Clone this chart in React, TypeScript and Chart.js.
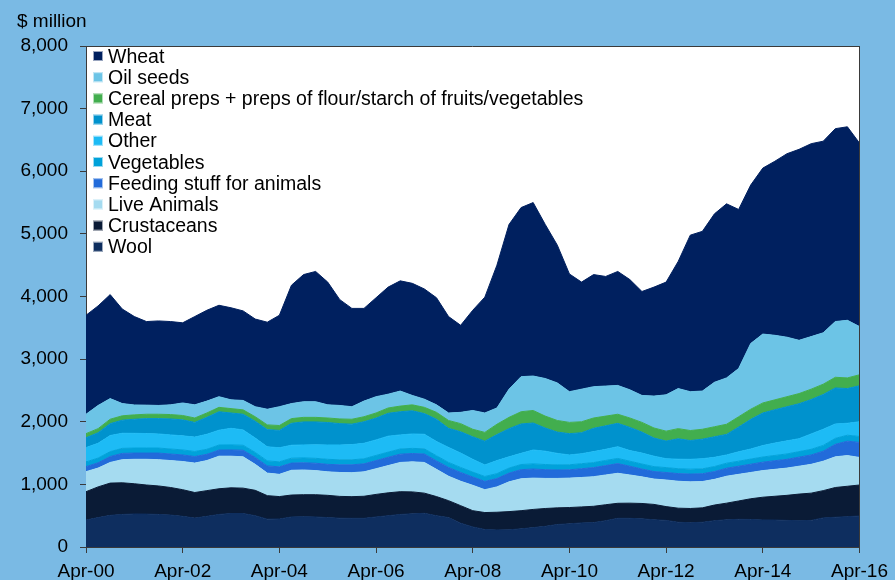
import React, { useEffect, useRef } from "react";
import { Chart, registerables } from "chart.js";

Chart.register(...registerables);

const quarters = [
  "Apr-00","Jul-00","Oct-00","Jan-01","Apr-01","Jul-01","Oct-01","Jan-02",
  "Apr-02","Jul-02","Oct-02","Jan-03","Apr-03","Jul-03","Oct-03","Jan-04",
  "Apr-04","Jul-04","Oct-04","Jan-05","Apr-05","Jul-05","Oct-05","Jan-06",
  "Apr-06","Jul-06","Oct-06","Jan-07","Apr-07","Jul-07","Oct-07","Jan-08",
  "Apr-08","Jul-08","Oct-08","Jan-09","Apr-09","Jul-09","Oct-09","Jan-10",
  "Apr-10","Jul-10","Oct-10","Jan-11","Apr-11","Jul-11","Oct-11","Jan-12",
  "Apr-12","Jul-12","Oct-12","Jan-13","Apr-13","Jul-13","Oct-13","Jan-14",
  "Apr-14","Jul-14","Oct-14","Jan-15","Apr-15","Jul-15","Oct-15","Jan-16",
  "Apr-16",
];

const yTicks = [0, 1000, 2000, 3000, 4000, 5000, 6000, 7000, 8000];

const wool = [431,470,505,520,527,525,520,510,490,462,490,520,535,535,500,445,447,480,485,480,470,460,458,458,480,500,520,530,538,500,470,380,320,280,272,275,290,310,330,360,370,385,390,420,458,458,450,435,425,395,388,395,420,435,442,440,432,430,425,420,425,465,475,485,495];
const crustaceans = [452,490,515,505,483,465,455,440,425,408,410,410,410,405,405,375,358,350,350,355,355,348,346,352,360,365,363,350,322,305,270,280,260,270,283,290,290,290,285,265,260,255,260,255,240,242,245,245,220,225,227,230,250,265,293,330,363,380,400,425,435,435,475,485,495];
const liveAnimals = [320,300,330,370,390,410,420,430,450,470,480,520,505,500,415,360,355,395,395,385,375,382,383,390,410,435,467,480,490,435,390,390,405,365,405,475,510,500,480,470,470,470,473,475,479,450,425,405,425,430,425,420,410,430,425,420,425,430,435,445,460,470,490,490,440];
const feeding = [80,85,95,100,100,100,105,105,105,105,100,98,100,105,110,115,120,115,115,118,120,122,125,128,130,133,133,133,135,135,140,140,133,133,133,140,145,145,140,135,133,140,145,150,155,140,125,120,120,122,125,125,125,128,130,132,135,138,140,145,150,160,200,230,240];
const vegetables = [75,75,78,80,80,80,80,80,80,80,80,80,80,80,80,80,80,78,78,78,80,80,80,80,82,82,82,82,82,82,80,80,78,78,78,80,82,82,82,80,80,80,80,82,82,80,80,78,78,78,78,78,80,80,80,82,82,84,86,88,90,92,95,95,95];
const other = [229,236,257,241,235,232,225,225,225,230,240,237,265,245,230,225,225,207,207,216,229,237,243,248,248,255,225,230,233,228,240,230,204,184,209,180,179,222,213,185,157,160,175,178,188,170,175,167,142,152,157,162,147,132,150,161,183,198,209,207,245,258,230,191,235];
const meat = [158,169,190,209,225,238,245,255,255,235,270,295,245,250,268,275,277,350,368,366,359,341,327,344,348,365,370,370,330,355,305,340,360,380,415,450,469,431,370,340,340,335,372,375,373,370,335,290,282,326,300,312,328,328,395,473,520,532,545,558,550,555,575,554,575];
const cereal = [65,65,70,70,70,70,70,70,70,70,70,70,70,70,72,75,78,75,72,72,72,75,78,80,82,85,90,95,100,110,125,130,120,140,165,180,195,200,190,185,180,175,165,155,145,150,155,160,158,162,160,158,160,162,165,162,160,158,160,162,165,165,170,170,175];
const oilSeeds = [310,370,330,195,158,145,140,155,200,210,190,170,140,150,160,250,300,240,250,250,210,215,200,250,260,220,240,150,130,120,120,180,300,310,260,450,560,550,600,600,490,520,500,480,460,450,430,510,580,640,620,610,710,740,770,1050,1100,1030,950,850,840,820,890,920,770];
const wheat = [1580,1590,1660,1510,1412,1335,1350,1330,1280,1410,1450,1460,1470,1430,1400,1390,1460,1890,2030,2080,1960,1690,1570,1480,1580,1710,1760,1790,1760,1710,1540,1390,1600,1850,2280,2630,2700,2770,2460,2200,1880,1710,1790,1750,1820,1760,1660,1740,1800,2030,2500,2550,2690,2780,2540,2530,2650,2780,2930,3050,3080,3060,3080,3090,2930];

const seriesNames = [
  "Wool",
  "Crustaceans",
  "Live Animals",
  "Feeding stuff for animals",
  "Vegetables",
  "Other",
  "Meat",
  "Cereal preps + preps of flour/starch of fruits/vegetables",
  "Oil seeds",
  "Wheat",
];
const seriesData = [wool, crustaceans, liveAnimals, feeding, vegetables, other, meat, cereal, oilSeeds, wheat];
const seriesColors = [
  "#0E2E5F",
  "#0A1B36",
  "#A5DBF0",
  "#226BDA",
  "#00A2DA",
  "#1DBBF5",
  "#0092CD",
  "#42AE4E",
  "#6CC4E6",
  "#00205F",
];

const FONT = "'Liberation Sans', Arial, sans-serif";
const AXIS_COLOR = "#3a3a3a";

const decorPlugin = {
  id: "decor",
  beforeDraw(chart: any) {
    const { ctx, chartArea } = chart;
    ctx.save();
    ctx.fillStyle = "#ffffff";
    ctx.fillRect(chartArea.left, chartArea.top, chartArea.right - chartArea.left, chartArea.bottom - chartArea.top);
    ctx.restore();
  },
  afterDraw(chart: any) {
    const { ctx, chartArea } = chart;
    ctx.save();
    // top and right frame lines
    ctx.strokeStyle = AXIS_COLOR;
    ctx.lineWidth = 1;
    ctx.beginPath();
    ctx.moveTo(chartArea.left, Math.round(chartArea.top) + 0.5);
    ctx.lineTo(chartArea.right, Math.round(chartArea.top) + 0.5);
    ctx.moveTo(Math.round(chartArea.right) + 0.5, chartArea.top);
    ctx.lineTo(Math.round(chartArea.right) + 0.5, chartArea.bottom);
    ctx.stroke();

    // y-axis unit
    ctx.fillStyle = "#000";
    ctx.font = `19px ${FONT}`;
    ctx.textAlign = "left";
    ctx.textBaseline = "alphabetic";
    ctx.fillText("$ million", 17, 27);

    // legend (top of stack first)
    ctx.font = `19.5px ${FONT}`;
    const ds = chart.data.datasets;
    const boxX = chartArea.left + 7;
    const textX = chartArea.left + 22;
    let k = 0;
    for (let i = ds.length - 1; i >= 0; i--) {
      const baseY = chartArea.top + 16.5 + k * 21.2;
      ctx.fillStyle = ds[i].backgroundColor;
      ctx.fillRect(boxX, baseY - 11.5, 10, 10);
      ctx.strokeStyle = "rgba(255,255,255,0.6)";
      ctx.lineWidth = 1;
      ctx.strokeRect(boxX + 0.5, baseY - 11, 9, 9);
      ctx.fillStyle = "#000";
      ctx.fillText(ds[i].label, textX, baseY);
      k++;
    }
    ctx.restore();
  },
};

export default function App() {
  const canvasRef = useRef<HTMLCanvasElement | null>(null);

  useEffect(() => {
    if (!canvasRef.current) return;
    const datasets = seriesData.map((d, i) => ({
      label: seriesNames[i],
      data: d,
      backgroundColor: seriesColors[i],
      borderColor: seriesColors[i],
      borderWidth: 1,
      pointRadius: 0,
      tension: 0,
      fill: i === 0 ? "origin" : "-1",
    }));

    const chart = new Chart(canvasRef.current, {
      type: "line",
      data: { labels: quarters, datasets },
      options: {
        animation: false,
        responsive: false,
        devicePixelRatio: 1,
        events: [],
        layout: { padding: { top: 46, right: 33, left: 0, bottom: 0 } },
        plugins: {
          legend: { display: false },
          tooltip: { enabled: false },
          title: { display: false },
        },
        scales: {
          x: {
            type: "category",
            offset: false,
            border: { display: true, color: AXIS_COLOR, width: 1 },
            grid: {
              drawOnChartArea: false,
              drawTicks: true,
              tickLength: 6,
              color: (c: any) => (c.index % 8 === 0 ? AXIS_COLOR : "rgba(0,0,0,0)"),
            },
            ticks: {
              autoSkip: false,
              maxRotation: 0,
              minRotation: 0,
              padding: 7,
              color: "#000",
              font: { family: FONT, size: 19 },
              callback: (_v: any, idx: number) => (idx % 8 === 0 ? quarters[idx] : ""),
            },
            afterFit: (s: any) => {
              s.height = 33;
            },
          },
          y: {
            stacked: true,
            min: yTicks[0],
            max: yTicks[yTicks.length - 1],
            border: { display: true, color: AXIS_COLOR, width: 1 },
            grid: {
              drawOnChartArea: false,
              drawTicks: true,
              tickLength: 6,
              color: AXIS_COLOR,
            },
            afterBuildTicks: (s: any) => {
              s.ticks = yTicks.map((v) => ({ value: v }));
            },
            ticks: {
              padding: 12,
              color: "#000",
              font: { family: FONT, size: 19 },
              callback: (v: any) => Number(v).toLocaleString("en-US"),
            },
            afterFit: (s: any) => {
              s.width = 86;
            },
          },
        },
      },
      plugins: [decorPlugin],
    });
    return () => chart.destroy();
  }, []);

  return (
    <div
      style={{
        position: "absolute",
        left: 0,
        top: 0,
        width: 895,
        height: 580,
        background: "#7ABAE4",
        overflow: "hidden",
      }}
    >
      <canvas ref={canvasRef} width={895} height={580} style={{ display: "block" }} />
    </div>
  );
}
